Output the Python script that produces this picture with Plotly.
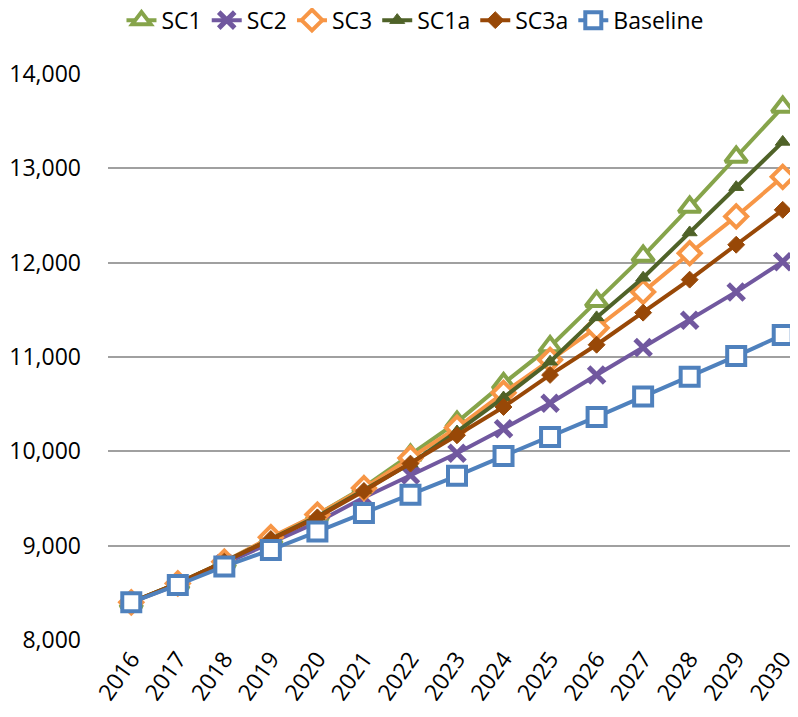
import plotly.graph_objects as go

years = [str(y) for y in range(2016, 2031)]

sc1      = [8400, 8600, 8830, 9080, 9330, 9620, 9960, 10310, 10720, 11110, 11590, 12070, 12590, 13120, 13650]
sc2      = [8400, 8590, 8810, 9030, 9250, 9510, 9750, 9980, 10240, 10510, 10810, 11100, 11390, 11690, 12010]
sc3      = [8400, 8600, 8830, 9090, 9330, 9610, 9930, 10250, 10620, 10970, 11310, 11690, 12100, 12490, 12910]
sc1a     = [8400, 8600, 8830, 9070, 9310, 9590, 9870, 10210, 10570, 10950, 11420, 11840, 12320, 12800, 13280]
sc3a     = [8400, 8600, 8830, 9070, 9300, 9580, 9870, 10170, 10470, 10810, 11130, 11470, 11820, 12190, 12560]
baseline = [8400, 8583, 8780, 8955, 9150, 9347, 9540, 9740, 9950, 10153, 10365, 10580, 10790, 11010, 11234]

# name, values, colour, symbol, size, fill, outline width
series = [
    ("SC1", sc1, "#86A44A", "triangle-up", 19, "white", 4),
    ("SC2", sc2, "#71589F", "x-thin", 16, None, 5),
    ("SC3", sc3, "#F79646", "diamond", 17, "white", 4),
    ("SC1a", sc1a, "#4F6228", "triangle-up", 13, None, 1),
    ("SC3a", sc3a, "#984807", "diamond", 13, None, 1),
    ("Baseline", baseline, "#4F81BD", "square", 18, "white", 4),
]

fig = go.Figure()
for name, vals, color, sym, size, fill, mlw in series:
    fig.add_trace(go.Scatter(
        x=years, y=vals, name=name, mode="lines+markers",
        line=dict(color=color, width=4),
        marker=dict(symbol=sym, size=size, color=fill if fill else color,
                    line=dict(color=color, width=mlw)),
    ))

fig.update_layout(
    width=798, height=717,
    paper_bgcolor="white", plot_bgcolor="white",
    margin=dict(l=100, r=0, t=66, b=85, autoexpand=False),
    font=dict(family="Open Sans, Liberation Sans, sans-serif", size=23, color="black"),
    legend=dict(orientation="h", xref="container", x=0.51, xanchor="center",
                yref="container", y=0.983, yanchor="middle",
                font=dict(size=23), itemwidth=30,
                bgcolor="rgba(0,0,0,0)"),
    showlegend=True,
)
fig.update_xaxes(type="category", range=[-0.5, 14.5], tickangle=-55, showgrid=False,
                 showline=False, ticks="", tickfont=dict(size=23), automargin=False)
fig.update_yaxes(range=[8000, 14000], dtick=1000, tickformat=",", showgrid=True,
                 gridcolor="#A0A0A0", gridwidth=2, zeroline=False, showline=False,
                 ticks="", ticklabelstandoff=26, tickfont=dict(size=23), automargin=False)

fig.write_html("out.html")
